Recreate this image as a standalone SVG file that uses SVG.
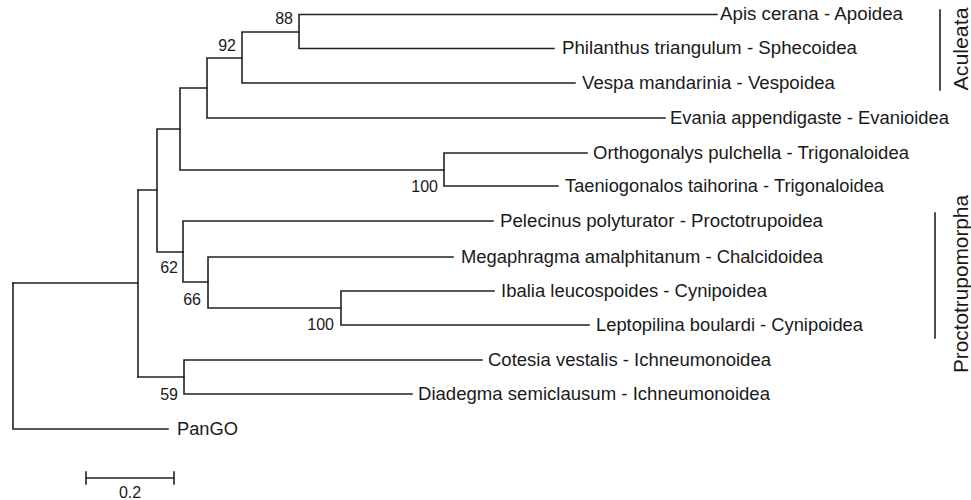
<svg xmlns="http://www.w3.org/2000/svg" width="971" height="500" viewBox="0 0 971 500">
<style>
.br{fill:none;stroke:#222;stroke-width:1.6;stroke-linecap:square}
.lf{font-family:"Liberation Sans",Arial,sans-serif;font-size:17.5px;fill:#1a1a1a}
.bs{font-family:"Liberation Sans",Arial,sans-serif;font-size:16px;fill:#1a1a1a}
.cl{font-family:"Liberation Sans",Arial,sans-serif;font-size:20px;fill:#1a1a1a}
</style>
<rect width="971" height="500" fill="#fff"/>
<g id="connectors" class="br">
<path d="M13,283V429H168"/>
<path d="M13,283H138V377"/>
<path d="M138,190V283"/>
<path d="M138,190H157V252H183"/>
<path d="M157,190V129H180V170H444"/>
<path d="M180,129V88H207V118H665"/>
<path d="M207,88V58H242V83H575"/>
<path d="M242,58V32H299V48.5H554"/>
<path d="M299,32V14.5H717"/>
<path d="M444,170V153H587"/>
<path d="M444,170V186H558"/>
<path d="M183,252V221H493"/>
<path d="M183,252V282H208V257H453"/>
<path d="M208,282V308H341V291H494"/>
<path d="M341,308V325H589"/>
<path d="M138,377H184V360H482"/>
<path d="M184,377V394H412"/>
<path d="M86,478H174M86,472V484M174,472V484"/>
<path d="M940,10V90M935,213V338"/>
</g>
<g id="n88"><text class="bs" x="293" y="24" text-anchor="end">88</text></g>
<g id="n92"><text class="bs" x="236" y="51" text-anchor="end">92</text></g>
<g id="n100a"><text class="bs" x="438" y="192" text-anchor="end">100</text></g>
<g id="n62"><text class="bs" x="178" y="273" text-anchor="end">62</text></g>
<g id="n66"><text class="bs" x="201" y="305" text-anchor="end">66</text></g>
<g id="n100b"><text class="bs" x="334" y="330" text-anchor="end">100</text></g>
<g id="n59"><text class="bs" x="178" y="400" text-anchor="end">59</text></g>
<g id="apis"><text class="lf" x="720" y="20" textLength="183" lengthAdjust="spacingAndGlyphs">Apis cerana - Apoidea</text></g>
<g id="philanthus"><text class="lf" x="562" y="54" textLength="295" lengthAdjust="spacingAndGlyphs">Philanthus triangulum - Sphecoidea</text></g>
<g id="vespa"><text class="lf" x="582" y="89" textLength="253" lengthAdjust="spacingAndGlyphs">Vespa mandarinia - Vespoidea</text></g>
<g id="evania"><text class="lf" x="670" y="124" textLength="279" lengthAdjust="spacingAndGlyphs">Evania appendigaste - Evanioidea</text></g>
<g id="orthogonalys"><text class="lf" x="593" y="159" textLength="316" lengthAdjust="spacingAndGlyphs">Orthogonalys pulchella - Trigonaloidea</text></g>
<g id="taeniogonalos"><text class="lf" x="565" y="192" textLength="319" lengthAdjust="spacingAndGlyphs">Taeniogonalos taihorina - Trigonaloidea</text></g>
<g id="pelecinus"><text class="lf" x="500" y="227" textLength="323" lengthAdjust="spacingAndGlyphs">Pelecinus polyturator - Proctotrupoidea</text></g>
<g id="megaphragma"><text class="lf" x="461" y="263" textLength="362" lengthAdjust="spacingAndGlyphs">Megaphragma amalphitanum - Chalcidoidea</text></g>
<g id="ibalia"><text class="lf" x="501" y="297" textLength="266" lengthAdjust="spacingAndGlyphs">Ibalia leucospoides - Cynipoidea</text></g>
<g id="leptopilina"><text class="lf" x="596" y="331" textLength="267" lengthAdjust="spacingAndGlyphs">Leptopilina boulardi - Cynipoidea</text></g>
<g id="cotesia"><text class="lf" x="488" y="366" textLength="283" lengthAdjust="spacingAndGlyphs">Cotesia vestalis - Ichneumonoidea</text></g>
<g id="diadegma"><text class="lf" x="418" y="400" textLength="352" lengthAdjust="spacingAndGlyphs">Diadegma semiclausum - Ichneumonoidea</text></g>
<g id="pango"><text class="lf" x="177" y="435" textLength="61" lengthAdjust="spacingAndGlyphs">PanGO</text></g>
<g id="aculeata"><text class="cl" transform="translate(968,49) rotate(-90)" text-anchor="middle" textLength="83" lengthAdjust="spacingAndGlyphs">Aculeata</text></g>
<g id="proctotrupomorpha"><text class="cl" transform="translate(968,284) rotate(-90)" text-anchor="middle" textLength="178" lengthAdjust="spacingAndGlyphs">Proctotrupomorpha</text></g>
<g id="scale"><text class="bs" x="130" y="498" text-anchor="middle">0.2</text></g>
</svg>
